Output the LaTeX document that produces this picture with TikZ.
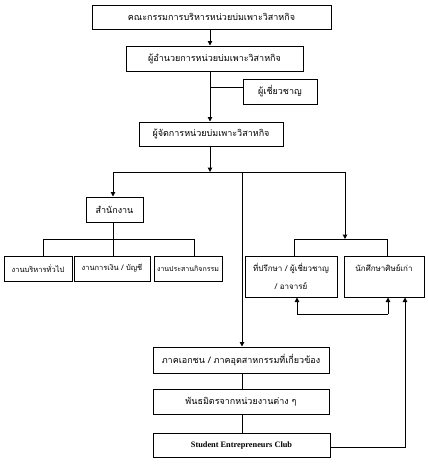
\documentclass[tikz,border=0pt]{standalone}
\usepackage{fontspec}
\setmainfont{Liberation Serif}
\newfontfamily\thaifont[Script=Thai]{Loma}
\usetikzlibrary{arrows.meta}
\begin{document}
\begin{tikzpicture}[x=1pt,y=-1pt,
  bx/.style={draw,line width=1pt,inner sep=0pt,align=center,
    font=\thaifont\fontsize{9}{13}\selectfont},
  sm/.style={font=\thaifont\fontsize{7.5}{9}\selectfont},
  ln/.style={line width=1pt},
  ar/.style={line width=1pt,-{Triangle[length=4.5pt,width=4.5pt]}}]
\useasboundingbox (0,0) rectangle (428,472);
\fill[white] (0,0) rectangle (428,472);
% nodes
\node[bx,minimum width=239pt,minimum height=24pt] (b1) at (211.5,17) {คณะกรรมการบริหารหน่วยบ่มเพาะวิสาหกิจ};
\node[bx,minimum width=177pt,minimum height=25pt] (b2) at (214.5,58.5) {ผู้อำนวยการหน่วยบ่มเพาะวิสาหกิจ};
\node[bx,minimum width=74pt,minimum height=25pt] (exp) at (280,91.5) {ผู้เชี่ยวชาญ};
\node[bx,minimum width=144pt,minimum height=24pt] (b4) at (211,134) {ผู้จัดการหน่วยบ่มเพาะวิสาหกิจ};
\node[bx,minimum width=57pt,minimum height=25pt] (off) at (114.5,209.5) {สำนักงาน};
\node[bx,sm,minimum width=68pt,minimum height=25pt] (g1) at (38,268.5) {งานบริหารทั่วไป};
\node[bx,sm,minimum width=76pt,minimum height=25pt] (g2) at (112,268.5) {งานการเงิน / บัญชี};
\node[bx,minimum width=68pt,minimum height=25pt,font=\thaifont\fontsize{7}{9}\selectfont] (g3) at (188,268.5) {งานประสานกิจกรรม};
\node[bx,minimum width=92pt,minimum height=41pt,font=\thaifont\fontsize{8}{18}\selectfont] (adv) at (291,276.5) {ที่ปรึกษา / ผู้เชี่ยวชาญ\\/ อาจารย์};
\node[bx,minimum width=80pt,minimum height=41pt,font=\thaifont\fontsize{8}{18}\selectfont] (alum) at (384,276.5) {นักศึกษาศิษย์เก่า\\\mbox{}};
\node[bx,minimum width=176pt,minimum height=26pt] (pri) at (241,360) {ภาคเอกชน / ภาคอุตสาหกรรมที่เกี่ยวข้อง};
\node[bx,minimum width=176pt,minimum height=25pt] (par) at (241,401.5) {พันธมิตรจากหน่วยงานต่าง ๆ};
\node[bx,minimum width=177pt,minimum height=24pt,font=\bfseries\fontsize{8.3}{10}\selectfont] (sec) at (241.5,445) {Student Entrepreneurs Club};
% coordinates
\coordinate (sp) at (210,0);
\coordinate (j1) at (210,172);
\coordinate (jl) at (113,172);
\coordinate (jm) at (242,172);
\coordinate (jr) at (345,172);
\coordinate (je) at (210,87);
\coordinate (oj) at (113,239);
\coordinate (gl) at (43,239);
\coordinate (gr) at (194,239);
\coordinate (rj) at (345,239);
\coordinate (rl) at (294,239);
\coordinate (rr) at (387,239);
\coordinate (bl) at (297,314);
\coordinate (br) at (388,314);
\coordinate (sc) at (405,447);
% connectors
\draw[ar] (b1.south -| sp) -- (b2.north -| sp);
\draw[ar] (b2.south -| sp) -- (b4.north -| sp);
\draw[ln] (je) -- (je -| exp.west);
\draw[ar] (b4.south -| sp) -- (j1);
\draw[ln] (jl) -- (jr);
\draw[ar] (jl) -- (off.north -| jl);
\draw[ar] (jm) -- (pri.north -| jm);
\draw[ar] (jr) -- (rj);
\draw[ln] (off.south -| oj) -- (oj);
\draw[ln] (gl) -- (gr);
\draw[ln] (gl) -- (g1.north -| gl);
\draw[ln] (oj) -- (g2.north -| oj);
\draw[ln] (gr) -- (g3.north -| gr);
\draw[ln] (rl) -- (rr);
\draw[ln] (rl) -- (adv.north -| rl);
\draw[ln] (rr) -- (alum.north -| rr);
\draw[ln] (bl) -- (br);
\draw[ar] (bl) -- (adv.south -| bl);
\draw[ar] (br) -- (alum.south -| br);
\draw[ln] (pri.south -| jm) -- (par.north -| jm);
\draw[ln] (par.south -| jm) -- (sec.north -| jm);
\draw[ar] (sec.east |- sc) -- (sc) -- (alum.south -| sc);
\end{tikzpicture}
\end{document}
